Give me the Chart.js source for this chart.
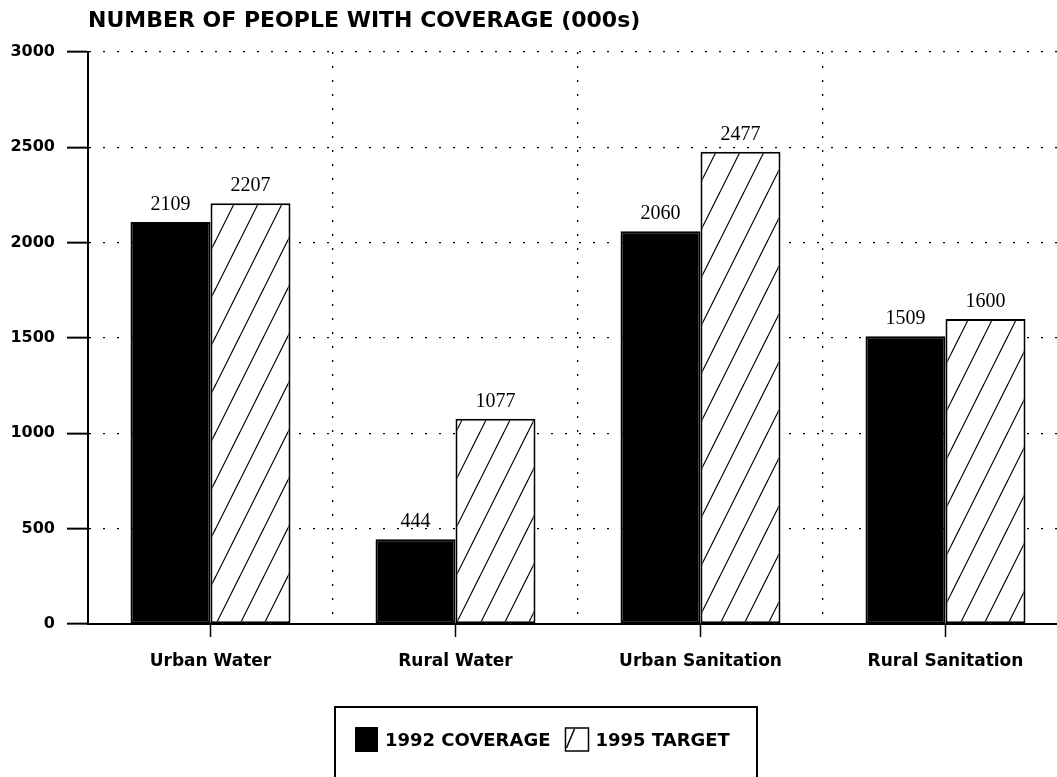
<!DOCTYPE html>
<html>
<head>
<meta charset="utf-8">
<script src="https://cdn.jsdelivr.net/npm/chart.js@4/dist/chart.umd.min.js"></script>
<style>
  html, body { margin: 0; padding: 0; background: #fff; overflow: hidden; }
  #wrap { width: 1057px; height: 777px; overflow: hidden; }
</style>
</head>
<body>
<div id="wrap"><canvas id="coverageChart" width="1080" height="777"></canvas></div>
<script>
const categories = ['Urban Water', 'Rural Water', 'Urban Sanitation', 'Rural Sanitation'];
const coverage1992 = [2109, 444, 2060, 1509];
const target1995 = [2207, 1077, 2477, 1600];
const seriesLabels = ['1992 COVERAGE', '1995 TARGET'];
const yTicks = [0, 500, 1000, 1500, 2000, 2500, 3000];
const chartTitle = 'NUMBER OF PEOPLE WITH COVERAGE (000s)';

const sansBold = '"DejaVu Sans", "Liberation Sans", sans-serif';

// diagonal "/" hatch used for the target bars
function makeHatch() {
  let c = document.createElement('canvas');
  c.width = 24; c.height = 48;
  let g = c.getContext('2d');
  g.fillStyle = '#fff';
  g.fillRect(0, 0, 24, 48);
  g.strokeStyle = '#000';
  g.lineWidth = 1.2;
  [-24, 0, 24].forEach(function (off) {
    g.beginPath();
    g.moveTo(off, 48);
    g.lineTo(off + 24, 0);
    g.stroke();
  });
  return g.createPattern(c, 'repeat');
}
const hatch = makeHatch();

const decorPlugin = {
  id: 'decor',
  afterDraw: function (chart) {
    let ctx = chart.ctx;
    let xScale = chart.scales.x;
    let area = chart.chartArea;
    ctx.save();

    // short tick marks under each category
    ctx.strokeStyle = '#000';
    ctx.lineWidth = 1.5;
    categories.forEach(function (c, i) {
      let x = xScale.getPixelForValue(i);
      ctx.beginPath();
      ctx.moveTo(x, area.bottom);
      ctx.lineTo(x, area.bottom + 13);
      ctx.stroke();
    });

    // values above the bars
    ctx.fillStyle = '#000';
    ctx.font = '20px "Liberation Serif", "Times New Roman", serif';
    ctx.textAlign = 'center';
    ctx.textBaseline = 'alphabetic';
    chart.data.datasets.forEach(function (ds, di) {
      chart.getDatasetMeta(di).data.forEach(function (bar, i) {
        ctx.fillText(String(ds.data[i]), bar.x, bar.y - 12);
      });
    });

    // title
    ctx.font = 'bold 22px ' + sansBold;
    ctx.textAlign = 'left';
    ctx.textBaseline = 'middle';
    ctx.fillText(chartTitle, 88, 21);

    // legend box
    ctx.lineWidth = 2;
    ctx.strokeRect(335, 707, 422, 90);
    ctx.font = 'bold 18px ' + sansBold;
    let x = 355;
    chart.data.datasets.forEach(function (ds, di) {
      if (di === 0) {
        ctx.fillStyle = '#000';
        ctx.fillRect(x, 727, 23, 25);
      } else {
        ctx.strokeStyle = '#000';
        ctx.lineWidth = 1.5;
        ctx.strokeRect(x, 728, 23, 23);
        ctx.beginPath();
        ctx.moveTo(x + 1, 748);
        ctx.lineTo(x + 9, 729);
        ctx.stroke();
      }
      ctx.fillStyle = '#000';
      ctx.fillText(ds.label, x + 30, 741);
      x = x + 30 + ctx.measureText(ds.label).width + 15;
    });

    ctx.restore();
  }
};

new Chart(document.getElementById('coverageChart'), {
  type: 'bar',
  data: {
    labels: categories,
    datasets: [{
      label: seriesLabels[0],
      data: coverage1992,
      backgroundColor: '#000',
      borderColor: '#000',
      borderWidth: 2,
      borderSkipped: false,
      categoryPercentage: 0.653,
      barPercentage: 1.0
    }, {
      label: seriesLabels[1],
      data: target1995,
      backgroundColor: hatch,
      borderColor: '#000',
      borderWidth: 2,
      borderSkipped: false,
      categoryPercentage: 0.653,
      barPercentage: 1.0
    }]
  },
  options: {
    responsive: false,
    animation: false,
    devicePixelRatio: 1,
    layout: { padding: { top: 52, right: 12, left: 0, bottom: 0 } },
    plugins: {
      legend: { display: false },
      title: { display: false },
      tooltip: { enabled: false }
    },
    scales: {
      x: {
        grid: { color: '#000', lineWidth: 1.3, drawTicks: false, offset: true },
        border: { display: true, color: '#000', width: 2, dash: [2, 12] },
        ticks: { color: '#000', padding: 27, font: { family: sansBold, weight: 'bold', size: 17 } },
        afterFit: function (scale) { scale.height = 153; }
      },
      y: {
        min: 0,
        max: 3000,
        afterBuildTicks: function (scale) {
          scale.ticks = yTicks.map(function (v) { return { value: v }; });
        },
        grid: {
          color: '#000', lineWidth: 1.3, drawTicks: true, tickLength: 21,
          tickColor: '#000', tickWidth: 2, tickBorderDash: []
        },
        border: { display: true, color: '#000', width: 2, dash: [2, 12] },
        ticks: {
          color: '#000', padding: 12,
          font: { family: sansBold, weight: 'bold', size: 16 },
          callback: function (value) { return String(value); }
        },
        afterFit: function (scale) { scale.width = 88; }
      }
    }
  },
  plugins: [decorPlugin]
});
</script>
</body>
</html>
